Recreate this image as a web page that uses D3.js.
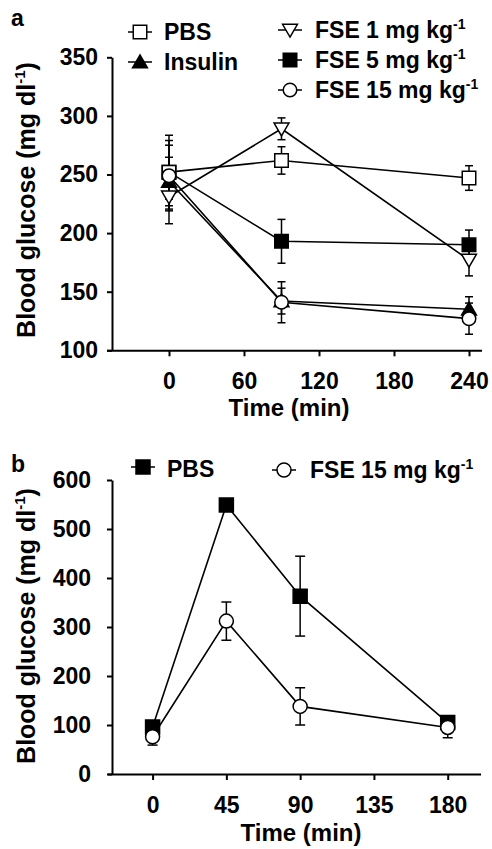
<!DOCTYPE html>
<html><head><meta charset="utf-8">
<script src="https://cdn.jsdelivr.net/npm/d3@7"></script>
<style>
body{margin:0;background:#fff;}
text{font-family:"Liberation Sans",Arial,sans-serif;font-weight:bold;fill:#000;}
</style></head>
<body><svg id="c" width="492" height="849"></svg>
<script>
// Panel a data
const timesA = [0, 90, 240];
const xTicksA = [0, 60, 120, 180, 240];
const yTicksA = [100, 150, 200, 250, 300, 350];
const pbsA = [252, 262, 247], pbsAErr = [31.5, 11.7, 10.5];
const insulinA = [244, 142, 135], insulinAErr = [20.7, 11, 10.7];
const fse1A = [231, 289, 177], fse1AErr = [23, 9.3, 13.5];
const fse5A = [252, 193, 190], fse5AErr = [23, 18.7, 12.6];
const fse15A = [249, 141, 127], fse15AErr = [30, 17.5, 13.3];
// Panel b data
const timesB = [0, 45, 90, 180];
const xTicksB = [0, 45, 90, 135, 180];
const yTicksB = [0, 100, 200, 300, 400, 500, 600];
const pbsB = [96, 549, 363, 105], pbsBErr = [8, 10, 81.5, 8];
const fse15B = [76, 312, 138, 95], fse15BErr = [17, 39, 38, 21];

const svg = d3.select("#c");

function markerPath(type, s) {
  const h = s / 2;
  switch (type) {
    case "square": return `M${-h},${-h}H${h}V${h}H${-h}Z`;
    case "triUp": return `M0,${-h*1.05}L${h*1.1},${h*0.85}L${-h*1.1},${h*0.85}Z`;
    case "triDown": return `M0,${h*1.05}L${h*1.1},${-h*0.85}L${-h*1.1},${-h*0.85}Z`;
    case "circle": { const p = d3.path(); p.arc(0, 0, h, 0, 2 * Math.PI); p.closePath(); return p.toString(); }
  }
}

function drawPanel(cfg) {
  const g = svg.append("g");
  const x = d3.scaleLinear().domain(cfg.xDomain).range(cfg.xRange);
  const y = d3.scaleLinear().domain(cfg.yDomain).range(cfg.yRange);
  // y axis
  const ya = g.append("g").attr("transform", `translate(${cfg.yAxisX},0)`)
    .call(d3.axisLeft(y).tickValues(cfg.yTicks).tickSize(5).tickSizeOuter(0).tickPadding(cfg.yPad));
  ya.select(".domain").attr("stroke-width", 2);
  ya.selectAll(".tick line").attr("stroke-width", 2);
  ya.selectAll("text").style("font-size", "23px").style("font-family", "Liberation Sans, Arial, sans-serif").style("font-weight", "bold");
  // x axis
  const xa = g.append("g").attr("transform", `translate(0,${cfg.yRange[0]})`)
    .call(d3.axisBottom(x).tickValues(cfg.xTicks).tickSize(6).tickSizeOuter(0).tickPadding(cfg.xPad));
  xa.select(".domain").attr("stroke-width", 2);
  xa.selectAll(".tick line").attr("stroke-width", 2);
  xa.selectAll("text").style("font-size", "23px").style("font-family", "Liberation Sans, Arial, sans-serif").style("font-weight", "bold");

  // error bars
  cfg.series.forEach(s => {
    s.vals.forEach((v, i) => {
      const cx = x(cfg.times[i]);
      const y1 = y(v + s.err[i]), y2 = y(v - s.err[i]);
      g.append("line").attr("x1", cx).attr("x2", cx).attr("y1", y1).attr("y2", y2).attr("stroke", "#000").attr("stroke-width", 1.5);
      [y1, y2].forEach(yy => g.append("line").attr("x1", cx - cfg.cap).attr("x2", cx + cfg.cap).attr("y1", yy).attr("y2", yy).attr("stroke", "#000").attr("stroke-width", 1.5));
    });
  });
  // lines
  cfg.series.forEach(s => {
    const line = d3.line().x((d, i) => x(cfg.times[i])).y(d => y(d));
    g.append("path").attr("d", line(s.vals)).attr("fill", "none").attr("stroke", "#000").attr("stroke-width", 1.6);
  });
  // markers
  cfg.series.forEach(s => {
    s.vals.forEach((v, i) => {
      g.append("path").attr("d", markerPath(s.shape, cfg.msize))
        .attr("transform", `translate(${x(cfg.times[i])},${y(v)})`)
        .attr("fill", s.fill).attr("stroke", "#000").attr("stroke-width", 1.5);
    });
  });
  // y label
  const yl = g.append("text").attr("transform", `translate(${cfg.yLabelX},${cfg.yLabelY}) rotate(-90)`)
    .attr("text-anchor", "middle").style("font-size", "25px");
  yl.append("tspan").text("Blood glucose (mg dl");
  yl.append("tspan").text("-1").style("font-size", "15px").attr("dy", "-10");
  yl.append("tspan").text(")").attr("dy", "10");
  // x label
  g.append("text").attr("x", cfg.xLabelX).attr("y", cfg.xLabelY).attr("text-anchor", "middle")
    .style("font-size", "24px").text("Time (min)");
  // panel letter
  g.append("text").attr("x", cfg.letterX).attr("y", cfg.letterY).style("font-size", "23px").text(cfg.letter);
  // legend
  cfg.legend.forEach(l => {
    const s = cfg.series.find(d => d.name === l.name);
    g.append("line").attr("x1", l.sx - 12).attr("x2", l.sx + 12).attr("y1", l.sy).attr("y2", l.sy).attr("stroke", "#000").attr("stroke-width", 1.5);
    g.append("path").attr("d", markerPath(s.shape, cfg.msize)).attr("transform", `translate(${l.sx},${l.sy})`)
      .attr("fill", s.fill).attr("stroke", "#000").attr("stroke-width", 1.5);
    const t = g.append("text").attr("x", l.tx).attr("y", l.ty + 8).style("font-size", "23px");
    t.append("tspan").text(s.label);
    if (s.sup) t.append("tspan").text("-1").style("font-size", "14px").attr("dy", "-9");
  });
}

drawPanel({
  letter: "a", letterX: 11, letterY: 26,
  xDomain: [-50, 250], xRange: [106.5, 481.5],
  yDomain: [100, 350], yRange: [350.3, 57.3],
  yAxisX: 112, yPad: 9, xPad: 16, cap: 4, msize: 13.5,
  xTicks: xTicksA, yTicks: yTicksA, times: timesA,
  yLabelX: 35, yLabelY: 200, xLabelX: 289, xLabelY: 416,
  series: [
    { name: "fse1", label: "FSE 1 mg kg", sup: true, shape: "triDown", fill: "#fff", vals: fse1A, err: fse1AErr },
    { name: "insulin", label: "Insulin", shape: "triUp", fill: "#000", vals: insulinA, err: insulinAErr },
    { name: "fse5", label: "FSE 5 mg kg", sup: true, shape: "square", fill: "#000", vals: fse5A, err: fse5AErr },
    { name: "pbs", label: "PBS", shape: "square", fill: "#fff", vals: pbsA, err: pbsAErr },
    { name: "fse15", label: "FSE 15 mg kg", sup: true, shape: "circle", fill: "#fff", vals: fse15A, err: fse15AErr }
  ],
  legend: [
    { name: "pbs", sx: 140, sy: 32, tx: 164, ty: 32 },
    { name: "insulin", sx: 140, sy: 62, tx: 164, ty: 62 },
    { name: "fse1", sx: 290, sy: 30, tx: 315, ty: 30 },
    { name: "fse5", sx: 290, sy: 60, tx: 315, ty: 60 },
    { name: "fse15", sx: 290, sy: 90, tx: 315, ty: 90 }
  ]
});

drawPanel({
  letter: "b", letterX: 11, letterY: 472,
  xDomain: [-27.5, 200], xRange: [107.5, 480.5],
  yDomain: [0, 600], yRange: [774, 480],
  yAxisX: 112, yPad: 16, xPad: 17, cap: 5, msize: 14,
  xTicks: xTicksB, yTicks: yTicksB, times: timesB,
  yLabelX: 35, yLabelY: 626, xLabelX: 301, xLabelY: 841,
  series: [
    { name: "pbs", label: "PBS", shape: "square", fill: "#000", vals: pbsB, err: pbsBErr },
    { name: "fse15", label: "FSE 15 mg kg", sup: true, shape: "circle", fill: "#fff", vals: fse15B, err: fse15BErr }
  ],
  legend: [
    { name: "pbs", sx: 143, sy: 467, tx: 167, ty: 469 },
    { name: "fse15", sx: 284, sy: 470, tx: 310, ty: 470 }
  ]
});
</script></body></html>
